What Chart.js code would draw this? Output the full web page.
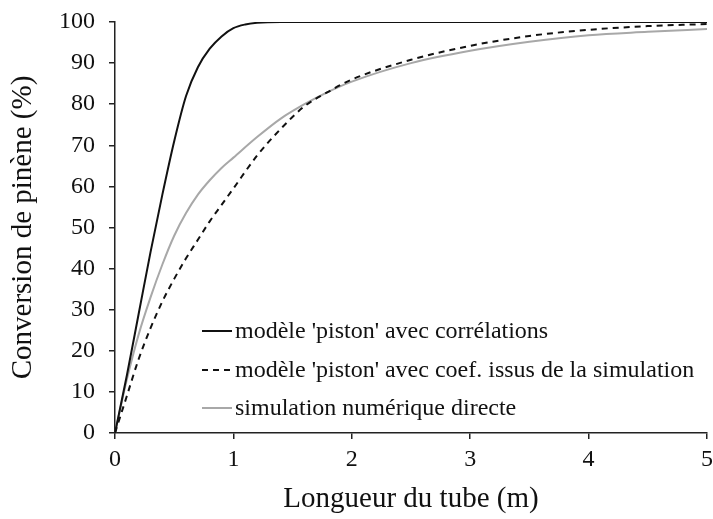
<!DOCTYPE html>
<html>
<head>
<meta charset="utf-8">
<script src="https://cdn.jsdelivr.net/npm/chart.js@4"></script>
<style>
  html, body { margin: 0; padding: 0; background: #fff; }
  #wrap { width: 713px; height: 519px; }
</style>
</head>
<body>
<div id="wrap"><canvas id="c" width="713" height="519"></canvas></div>
<script>
// tube length (m) and pinene conversion (%)
const pistonCorrX = [0, 0.1, 0.2, 0.3, 0.4, 0.5, 0.6, 0.7, 0.8, 0.9, 1.0, 1.1, 1.2, 1.4, 2, 3, 4, 5];
const pistonCorrY = [0, 14, 29, 44, 58, 71, 82, 89, 93.5, 96.5, 98.5, 99.4, 99.8, 100, 100, 100, 100, 100];

const pistonSimX = [0, 0.1, 0.2, 0.3, 0.4, 0.5, 0.6, 0.7, 0.8, 0.9, 1.0, 1.2, 1.4, 1.6, 1.8, 2, 2.5, 3, 3.5, 4, 4.5, 5];
const pistonSimY = [0, 9, 18, 25.5, 32, 37.5, 42.5, 47, 51.5, 55.5, 59.5, 67.5, 74, 79.5, 83, 86, 90.8, 94.2, 96.6, 98.1, 99, 99.5];

const directX = [0, 0.1, 0.2, 0.3, 0.4, 0.5, 0.6, 0.7, 0.8, 0.9, 1.0, 1.2, 1.4, 1.6, 1.8, 2, 2.5, 3, 3.5, 4, 4.5, 5];
const directY = [0, 13, 24, 33, 41, 48, 53.5, 58, 61.5, 64.5, 67, 72, 76.5, 80, 83, 85.5, 90, 93, 95.2, 96.8, 97.6, 98.3];

const seriesLabels = [
  "modèle 'piston' avec corrélations",
  "modèle 'piston' avec coef. issus de la simulation",
  "simulation numérique directe"
];
const xTicks = [0, 1, 2, 3, 4, 5];
const yTicks = [0, 10, 20, 30, 40, 50, 60, 70, 80, 90, 100];

const pts = (xs, ys) => xs.map((x, i) => ({ x, y: ys[i] }));
const serif = "'Liberation Serif', 'DejaVu Serif', serif";

// legend drawn inside the plot area, lower right
const insideLegend = {
  id: 'insideLegend',
  afterDraw(chart) {
    const { ctx, chartArea } = chart;
    const x0 = chartArea.left + 87, x1 = x0 + 30;
    const rows = [chartArea.bottom - 102, chartArea.bottom - 63, chartArea.bottom - 25];
    ctx.save();
    ctx.font = '24px ' + serif;
    ctx.textBaseline = 'middle';
    chart.data.datasets.forEach((ds, i) => {
      const y = rows[i];
      ctx.beginPath();
      ctx.strokeStyle = ds.borderColor;
      ctx.lineWidth = ds.borderWidth;
      ctx.setLineDash(ds.borderDash || []);
      ctx.moveTo(x0, y);
      ctx.lineTo(x1, y);
      ctx.stroke();
      ctx.setLineDash([]);
      ctx.fillStyle = '#111';
      ctx.fillText(ds.label, x1 + 3, y + 1);
    });
    ctx.restore();
  }
};

new Chart(document.getElementById('c'), {
  type: 'line',
  data: {
    datasets: [
      { label: seriesLabels[0], data: pts(pistonCorrX, pistonCorrY), borderColor: '#111', borderWidth: 2 },
      { label: seriesLabels[1], data: pts(pistonSimX, pistonSimY), borderColor: '#111', borderWidth: 2, borderDash: [6, 5] },
      { label: seriesLabels[2], data: pts(directX, directY), borderColor: '#a8a8a8', borderWidth: 2 }
    ]
  },
  options: {
    responsive: false,
    animation: false,
    layout: { padding: { left: 0, right: 6, top: 22, bottom: 0 } },
    elements: {
      point: { radius: 0 },
      line: { tension: 0.4, cubicInterpolationMode: 'monotone', fill: false }
    },
    plugins: { legend: { display: false }, tooltip: { enabled: false } },
    scales: {
      x: {
        type: 'linear', min: 0, max: 5,
        afterBuildTicks: s => { s.ticks = xTicks.map(v => ({ value: v })); },
        afterFit: s => { s.height = 86; s.paddingLeft = 0; s.paddingRight = 0; },
        grid: { drawOnChartArea: false, tickLength: 6, color: '#222', lineWidth: 1.5 },
        border: { color: '#222', width: 1.5 },
        ticks: { color: '#111', font: { family: serif, size: 24 }, padding: 6 },
        title: { display: true, text: 'Longueur du tube (m)', color: '#111', font: { family: serif, size: 29 }, padding: { top: 4, bottom: 2 } }
      },
      y: {
        type: 'linear', min: 0, max: 100,
        afterBuildTicks: s => { s.ticks = yTicks.map(v => ({ value: v })); },
        afterFit: s => { s.width = 115; s.paddingTop = 0; s.paddingBottom = 0; },
        grid: { drawOnChartArea: false, tickLength: 6, color: '#222', lineWidth: 1.5 },
        border: { color: '#222', width: 1.5 },
        ticks: { color: '#111', font: { family: serif, size: 24 }, padding: 14 },
        title: { display: true, text: 'Conversion de pinène (%)', color: '#111', font: { family: serif, size: 29 }, padding: { top: 6, bottom: 0 } }
      }
    }
  },
  plugins: [insideLegend]
});
</script>
</body>
</html>
